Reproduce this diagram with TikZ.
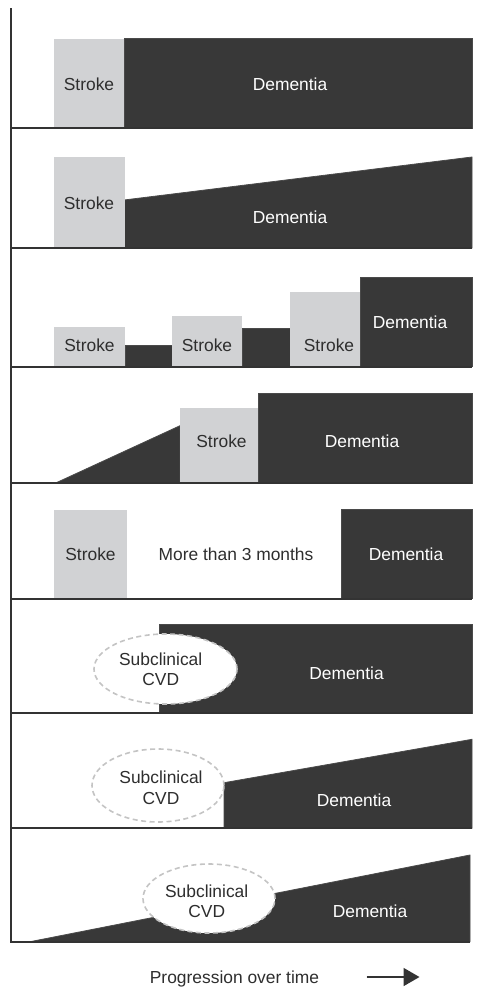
\documentclass[tikz,border=0pt]{standalone}
\usepackage{fontspec}
\setmainfont{Liberation Sans}
\usetikzlibrary{shapes.geometric,arrows.meta}
\definecolor{demfill}{HTML}{383838}
\definecolor{demedge}{HTML}{4A4A4A}
\definecolor{stkfill}{HTML}{D1D2D4}
\definecolor{txt}{HTML}{2E2E2E}
\definecolor{axis}{HTML}{333333}
\definecolor{ellgray}{HTML}{C4C4C4}
\tikzset{
  stkbox/.style={fill=stkfill,draw=none,inner sep=0pt,anchor=south west},
  dembox/.style={fill=demfill,draw=demedge,line width=0.8pt,inner sep=0pt,anchor=south west},
  demshape/.style={fill=demfill,draw=demedge,line width=0.8pt},
  baseline/.style={draw=axis,line width=1.8pt},
  lbl/.style={font=\fontsize{17.4}{20.5}\selectfont,text=txt,anchor=base,inner sep=0pt},
  wlbl/.style={font=\fontsize{17.4}{20.5}\selectfont,text=white,anchor=base,inner sep=0pt},
  cvd/.style={ellipse,fill=white,draw=ellgray,line width=1.6pt,dash pattern=on 5pt off 3.5pt,inner sep=0pt},
}
\begin{document}
\begin{tikzpicture}[x=1pt,y=-1pt]
\useasboundingbox (0,0) rectangle (481,1007);
% ---------- panel 1
\node[dembox,minimum width=348pt,minimum height=89.3pt] (d1) at (124,128.3) {};
\node[stkbox,minimum width=70pt,minimum height=89.3pt] (s1) at (54,128.3) {};
\node[lbl] (s1t) at (89,90.2) {Stroke};
\node[wlbl] (d1t) at (290,90.2) {Dementia};
% ---------- panel 2
\coordinate (p2a) at (124,248); \coordinate (p2b) at (124,200);
\coordinate (p2c) at (472,157); \coordinate (p2d) at (472,248);
\path[demshape] (p2a) -- (p2b) -- (p2c) -- (p2d) -- cycle;
\node[stkbox,minimum width=71pt,minimum height=91pt] (s2) at (54,248) {};
\node[lbl] (s2t) at (89,209.7) {Stroke};
\node[wlbl] (d2t) at (290,223.2) {Dementia};
% ---------- panel 3
\node[stkbox,minimum width=71pt,minimum height=39.7pt] (s3a) at (54,366.7) {};
\node[dembox,minimum width=47pt,minimum height=21.4pt] (k3a) at (125,366.7) {};
\node[stkbox,minimum width=70pt,minimum height=50.7pt] (s3b) at (172,366.7) {};
\node[dembox,minimum width=48pt,minimum height=38.4pt] (k3b) at (242,366.7) {};
\node[stkbox,minimum width=70pt,minimum height=74.7pt] (s3c) at (290,366.7) {};
\node[dembox,minimum width=112pt,minimum height=89.4pt] (d3) at (360,366.7) {};
\node[lbl] (s3at) at (89.5,351.7) {Stroke};
\node[lbl] (s3bt) at (207,351.7) {Stroke};
\node[lbl] (s3ct) at (329,351.7) {Stroke};
\node[wlbl] (d3t) at (410,328.2) {Dementia};
% ---------- panel 4
\coordinate (p4a) at (55,483.3); \coordinate (p4b) at (180,425.7); \coordinate (p4c) at (180,483.3);
\path[demshape] (p4a) -- (p4b) -- (p4c) -- cycle;
\node[dembox,minimum width=214pt,minimum height=90pt] (d4) at (258,483.3) {};
\node[stkbox,minimum width=78pt,minimum height=75.3pt] (s4) at (180,483.3) {};
\node[lbl] (s4t) at (221.5,447.2) {Stroke};
\node[wlbl] (d4t) at (362,447.2) {Dementia};
% ---------- panel 5
\node[stkbox,minimum width=73pt,minimum height=88.7pt] (s5) at (54,598.7) {};
\node[dembox,minimum width=131pt,minimum height=88.7pt] (d5) at (341,598.7) {};
\node[lbl] (m5t) at (236,560.2) {More than 3 months};
\node[lbl] (s5t) at (90.5,560.2) {Stroke};
\node[wlbl] (d5t) at (406,560.2) {Dementia};
% ---------- panel 6
\node[dembox,minimum width=313pt,minimum height=88.3pt] (d6) at (159,713.3) {};
\node[cvd,minimum width=143pt,minimum height=70pt] (e6) at (165.5,669) {};
\node[lbl] (e6a) at (160.7,665.2) {Subclinical};
\node[lbl] (e6b) at (160.7,685.7) {CVD};
\node[wlbl] (d6t) at (346.5,679.5) {Dementia};
% ---------- panel 7
\coordinate (p7a) at (224,828.3); \coordinate (p7b) at (224,782.7);
\coordinate (p7c) at (472,739.3); \coordinate (p7d) at (472,828.3);
\path[demshape] (p7a) -- (p7b) -- (p7c) -- (p7d) -- cycle;
\node[cvd,minimum width=132pt,minimum height=73pt] (e7) at (158,785.5) {};
\node[lbl] (e7a) at (161,783.2) {Subclinical};
\node[lbl] (e7b) at (161,804.2) {CVD};
\node[wlbl] (d7t) at (354,806.2) {Dementia};
% ---------- panel 8
\coordinate (p8a) at (30,941.7); \coordinate (p8b) at (470,855); \coordinate (p8c) at (470,941.7);
\path[demshape] (p8a) -- (p8b) -- (p8c) -- cycle;
\node[cvd,minimum width=132pt,minimum height=69pt] (e8) at (209,898.5) {};
\node[lbl] (e8a) at (206.7,897.2) {Subclinical};
\node[lbl] (e8b) at (206.7,917.9) {CVD};
\node[wlbl] (d8t) at (370,917.9) {Dementia};
% ---------- axis and baselines
\coordinate (ax0) at (11,8); \coordinate (ax1) at (11,941.7);
\draw[baseline] (ax0) -- (ax1);
\foreach \yy/\xe [count=\i] in {128.3/472,248/472,366.7/472,483.3/472,598.7/472,713.3/472,828.3/472,941.7/470}{
  \coordinate (bl\i a) at (10.1,\yy); \coordinate (bl\i b) at (\xe,\yy);
  \draw[baseline] (bl\i a) -- (bl\i b);
}
% ---------- time arrow
\node[lbl] (prog) at (234.5,983.7) {Progression over time};
\coordinate (ar0) at (366.7,977); \coordinate (ar1) at (419.5,977);
\draw[draw=axis,fill=axis,line width=1.8pt,-{Triangle[length=16pt,width=18pt]}] (ar0) -- (ar1);
\end{tikzpicture}
\end{document}
